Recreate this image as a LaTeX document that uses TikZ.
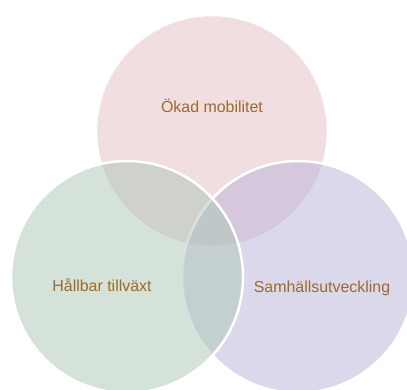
\documentclass[tikz,border=0pt]{standalone}
\usepackage{fontspec}
\setmainfont{Liberation Sans}
\definecolor{cpink}{HTML}{E5BFC3}
\definecolor{cgreen}{HTML}{ADC7B5}
\definecolor{cpurple}{HTML}{BBB3D9}
\definecolor{ctext}{HTML}{9C6A2B}
\begin{document}
\begin{tikzpicture}[x=1bp,y=-1bp,
  venn/.style={fill opacity=0.5, draw=white, line width=2.5bp, draw opacity=1},
  lbl/.style={text=ctext, font=\fontsize{16}{19}\selectfont, inner sep=0pt, anchor=base}]
\useasboundingbox[fill=white] (0,0) rectangle (407,390);
\begin{scope}
\clip (0,0) rectangle (407,390);
\path[venn, fill=cpink] (212,131) circle (116);
\path[venn, fill=cpurple] (298,277) circle (116);
\path[venn, fill=cgreen] (127,277) circle (116);
\end{scope}
\node[lbl] (top) at (212,112.5) {Ökad mobilitet};
\node[lbl] (left) at (102,291) {Hållbar tillväxt};
\node[lbl] (right) at (322,292) {Samhällsutveckling};
\end{tikzpicture}
\end{document}
